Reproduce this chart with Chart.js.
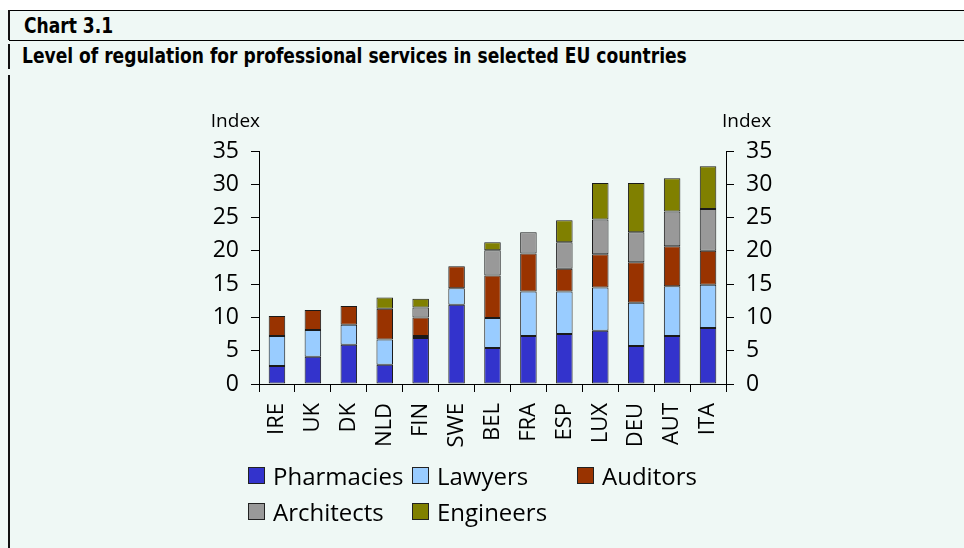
<!DOCTYPE html>
<html>
<head>
<meta charset="utf-8">
<script src="https://cdn.jsdelivr.net/npm/chart.js@4.4.1/dist/chart.umd.min.js"></script>
<style>
  html, body { margin: 0; padding: 0; }
  body { width: 964px; height: 548px; background: #fff; position: relative; overflow: hidden; font-family: "Open Sans", sans-serif; }
  #panel { position: absolute; left: 0; top: 10px; width: 964px; height: 538px; background: #eff8f5; }
  .hline { position: absolute; left: 9px; right: 0; height: 0; border-top: 1px solid #000; }
  .vline { position: absolute; left: 8px; width: 0; border-left: 2px solid #111; }
  .head { position: absolute; font-family: "DejaVu Sans Condensed", sans-serif; font-weight: bold; font-size: 21px; color: #000; white-space: nowrap; line-height: 1; transform: scaleX(0.905); transform-origin: left center; }
  #chart { position: absolute; left: 0; top: 0; }
  #legend { position: absolute; left: 248px; top: 457px; display: grid; grid-template-columns: 164px 165px auto; grid-auto-rows: 36px; }
  .item { display: flex; align-items: center; font-size: 24px; color: #000; white-space: nowrap; }
  .swatch { width: 15px; height: 15px; border: 1px solid #222; margin-right: 8px; }
</style>
</head>
<body>
<div id="panel"></div>
<div class="hline" style="top:10px"></div>
<div class="hline" style="top:40px"></div>
<div class="vline" style="top:10px;height:30px"></div>
<div class="vline" style="top:44px;height:25px"></div>
<div class="vline" style="top:75px;height:473px"></div>
<div class="head" style="left:24px;top:16px">Chart 3.1</div>
<div class="head" style="left:22px;top:46px">Level of regulation for professional services in selected EU countries</div>
<canvas id="chart" width="964" height="548"></canvas>
<div id="legend"></div>
<script>
const countries = ['IRE', 'UK', 'DK', 'NLD', 'FIN', 'SWE', 'BEL', 'FRA', 'ESP', 'LUX', 'DEU', 'AUT', 'ITA'];
const pharmacies = [2.7, 4.1, 5.9, 2.9, 6.9, 11.9, 5.4, 7.2, 7.5, 8.0, 5.7, 7.2, 8.4];
const lawyers = [4.5, 4.0, 3.0, 3.8, 0.3, 2.5, 4.5, 6.7, 6.4, 6.5, 6.5, 7.5, 6.5];
const auditors = [3.0, 3.0, 2.8, 4.6, 2.8, 3.3, 6.4, 5.7, 3.4, 5.0, 6.1, 6.0, 5.1];
const architects = [null, null, null, null, 1.5, null, 3.8, 3.2, 4.0, 5.2, 4.5, 5.2, 6.3];
const engineers = [null, null, null, 1.7, 1.3, null, 1.2, null, 3.3, 5.5, 7.4, 5.0, 6.4];
const yTicks = [0, 5, 10, 15, 20, 25, 30, 35];

const series = [
  { label: 'Pharmacies', data: pharmacies, color: '#3333cc' },
  { label: 'Lawyers', data: lawyers, color: '#99ccff' },
  { label: 'Auditors', data: auditors, color: '#993300' },
  { label: 'Architects', data: architects, color: '#999999' },
  { label: 'Engineers', data: engineers, color: '#808000' }
];

const tickFont = { family: '"Open Sans", sans-serif', size: 23 };

// "Index" caption above both value axes
const indexLabels = {
  id: 'indexLabels',
  afterDraw(chart) {
    const ctx = chart.ctx;
    ctx.save();
    ctx.font = '19px "Open Sans", sans-serif';
    ctx.fillStyle = '#000';
    ctx.textBaseline = 'middle';
    ctx.textAlign = 'right';
    ctx.fillText('Index', chart.scales.y.right + 1, 122);
    ctx.textAlign = 'left';
    ctx.fillText('Index', chart.scales.y2.left - 4, 122);
    ctx.restore();
  }
};

function valueAxis(position, width) {
  return {
    position: position,
    min: 0,
    max: 35,
    afterBuildTicks: s => { s.ticks = yTicks.map(v => ({ value: v })); },
    grid: { drawOnChartArea: false, drawTicks: true, tickLength: 8, color: '#000' },
    border: { display: true, color: '#000', width: 1 },
    ticks: { color: '#000', font: tickFont, padding: 12 },
    afterFit: s => { s.width = width; }
  };
}

new Chart(document.getElementById('chart'), {
  type: 'bar',
  data: {
    labels: countries,
    datasets: series.map(s => ({
      label: s.label,
      data: s.data,
      backgroundColor: s.color,
      borderColor: '#1a1a1a',
      borderWidth: 1,
      borderSkipped: false,
      barPercentage: 0.46,
      categoryPercentage: 1
    }))
  },
  options: {
    responsive: false,
    animation: false,
    devicePixelRatio: 1,
    layout: { padding: { top: 151, left: 0, right: 0, bottom: 0 } },
    plugins: {
      legend: { display: false },
      tooltip: { enabled: false }
    },
    scales: {
      x: {
        stacked: true,
        grid: { offset: true, drawOnChartArea: false, tickLength: 8, color: '#000' },
        border: { display: true, color: '#000', width: 1 },
        ticks: { color: '#000', font: { family: '"Open Sans", sans-serif', size: 22 }, minRotation: 90, maxRotation: 90, autoSkip: false, padding: 11 },
        afterFit: s => { s.height = 548 - 384; }
      },
      y: Object.assign(valueAxis('left', 259), { stacked: true }),
      y2: valueAxis('right', 964 - 726)
    }
  },
  plugins: [indexLabels]
});

const legend = document.getElementById('legend');
series.forEach(s => {
  const item = document.createElement('div');
  item.className = 'item';
  item.innerHTML = '<span class="swatch" style="background:' + s.color + '"></span>' + s.label;
  legend.appendChild(item);
});
</script>
</body>
</html>
